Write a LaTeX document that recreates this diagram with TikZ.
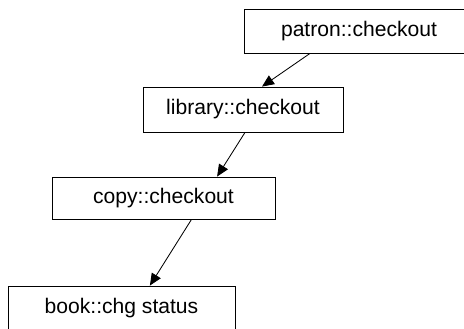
\documentclass[tikz,border=0pt]{standalone}
\usepackage{fontspec}
\setmainfont{Liberation Sans}
\usetikzlibrary{arrows.meta}

\begin{document}
\begin{tikzpicture}[
    box/.style={rectangle, draw=black, line width=0.6pt, minimum height=1.1cm,
                font=\fontsize{15}{18}\selectfont, align=center},
    arrow/.style={-{Triangle[length=0.3cm, width=0.26cm]}, line width=0.6pt}
]

% Picture frame (boxes run past it at the edges)
\clip (0,0) rectangle (11.6,-8.225);

% Call chain, top to bottom
\node[box, minimum width=5.75cm] (patron) at (8.975,-0.775) {patron::checkout};
\node[box, minimum width=5cm, minimum height=1.125cm] (library) at (6.075,-2.7375) {library::checkout};
\node[box, minimum width=5.575cm, minimum height=1.05cm] (copy) at (4.0875,-4.95) {copy::checkout};
\node[box, minimum width=5.675cm] (book) at (3.0375,-7.7) {book::chg status};

% Arrows between the calls
\draw[arrow] ([xshift=-1.225cm]patron.south) -- ([xshift=0.475cm]library.north);
\draw[arrow] ([xshift=0.05cm]library.south) -- ([xshift=1.34cm]copy.north);
\draw[arrow] ([xshift=0.7cm]copy.south) -- ([xshift=0.71cm]book.north);

\end{tikzpicture}
\end{document}
